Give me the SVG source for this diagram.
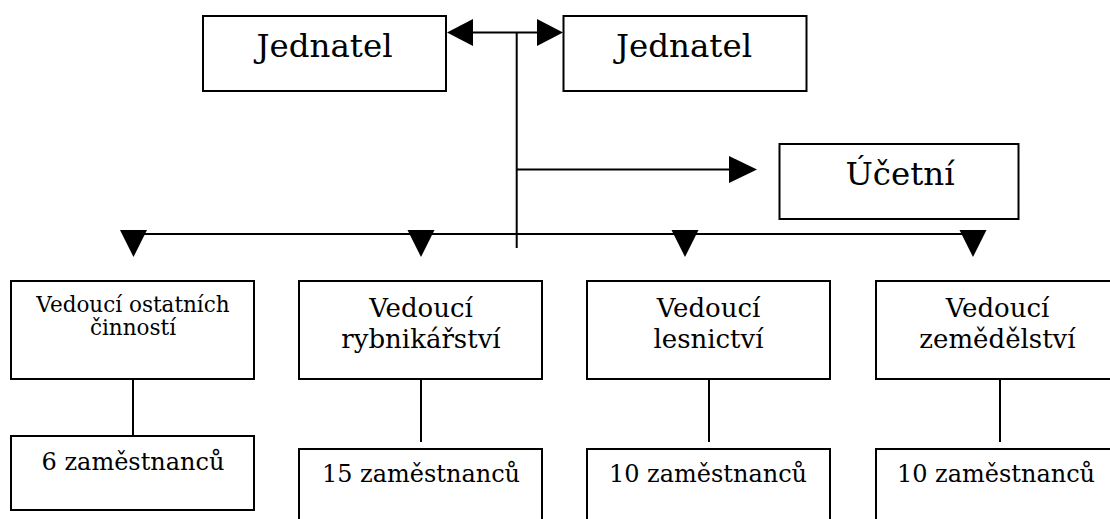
<svg xmlns="http://www.w3.org/2000/svg" width="1110" height="519" viewBox="0 0 1110 519">
<style>
.box{fill:#fff;stroke:#000;stroke-width:2}
.ln{fill:none;stroke:#000;stroke-width:2}
.t{font-family:"DejaVu Serif","Liberation Serif",serif;fill:#000;text-anchor:middle}
.big{font-size:32.5px}
.mid{font-size:26px}
.sm{font-size:21.5px}
.emp{font-size:24px}
</style>
<defs>
<polygon id="down" points="-13.5,0 13.5,0 0,27" fill="#000"/>
</defs>
<rect width="1110" height="519" fill="#fff"/>
<g id="connectors">
<line class="ln" x1="473" y1="32.5" x2="537" y2="32.5"/>
<polygon points="447,32.5 473,19 473,46" fill="#000"/>
<polygon points="563,32.5 537,19 537,46" fill="#000"/>
<line class="ln" x1="516.7" y1="32.5" x2="516.7" y2="248"/>
<line class="ln" x1="516.7" y1="169.5" x2="730" y2="169.5"/>
<polygon points="757,169.5 729,156 729,183" fill="#000"/>
<line class="ln" x1="133" y1="234" x2="973" y2="234"/>
<use href="#down" x="133.5" y="230"/>
<use href="#down" x="421" y="230"/>
<use href="#down" x="685" y="230"/>
<use href="#down" x="973" y="230"/>
<line class="ln" x1="133" y1="379" x2="133" y2="442"/>
<line class="ln" x1="421" y1="371" x2="421" y2="442"/>
<line class="ln" x1="709" y1="371" x2="709" y2="442"/>
<line class="ln" x1="1000" y1="371" x2="1000" y2="442"/>
</g>
<g id="jednatel1"><rect class="box" x="203" y="16" width="243" height="75"/><text class="t big" x="324.5" y="57">Jednatel</text></g>
<g id="jednatel2"><rect class="box" x="563.5" y="16" width="243" height="75"/><text class="t big" x="684" y="57">Jednatel</text></g>
<g id="ucetni"><rect class="box" x="779.5" y="144" width="239" height="75"/><text class="t big" x="900" y="185">Účetní</text></g>
<g id="ved1"><rect class="box" x="11" y="281" width="243" height="98"/><text class="t sm" x="133" y="311.5">Vedoucí ostatních</text><text class="t sm" x="133" y="335">činností</text></g>
<g id="ved2"><rect class="box" x="299" y="281" width="243" height="98"/><text class="t mid" x="421" y="316.5">Vedoucí</text><text class="t mid" x="421" y="348">rybnikářství</text></g>
<g id="ved3"><rect class="box" x="587" y="281" width="243" height="98"/><text class="t mid" x="708.5" y="316.5">Vedoucí</text><text class="t mid" x="708.5" y="348">lesnictví</text></g>
<g id="ved4"><rect class="box" x="876" y="281" width="243" height="98"/><text class="t mid" x="997.5" y="316.5">Vedoucí</text><text class="t mid" x="997.5" y="348">zemědělství</text></g>
<g id="emp1"><rect class="box" x="11" y="436" width="243" height="74"/><text class="t emp" x="133" y="470">6 zaměstnanců</text></g>
<g id="emp2"><rect class="box" x="299" y="449" width="243" height="80"/><text class="t emp" x="421" y="481.5">15 zaměstnanců</text></g>
<g id="emp3"><rect class="box" x="587" y="449" width="243" height="80"/><text class="t emp" x="708" y="481.5">10 zaměstnanců</text></g>
<g id="emp4"><rect class="box" x="876" y="449" width="243" height="80"/><text class="t emp" x="996" y="481.5">10 zaměstnanců</text></g>
</svg>
